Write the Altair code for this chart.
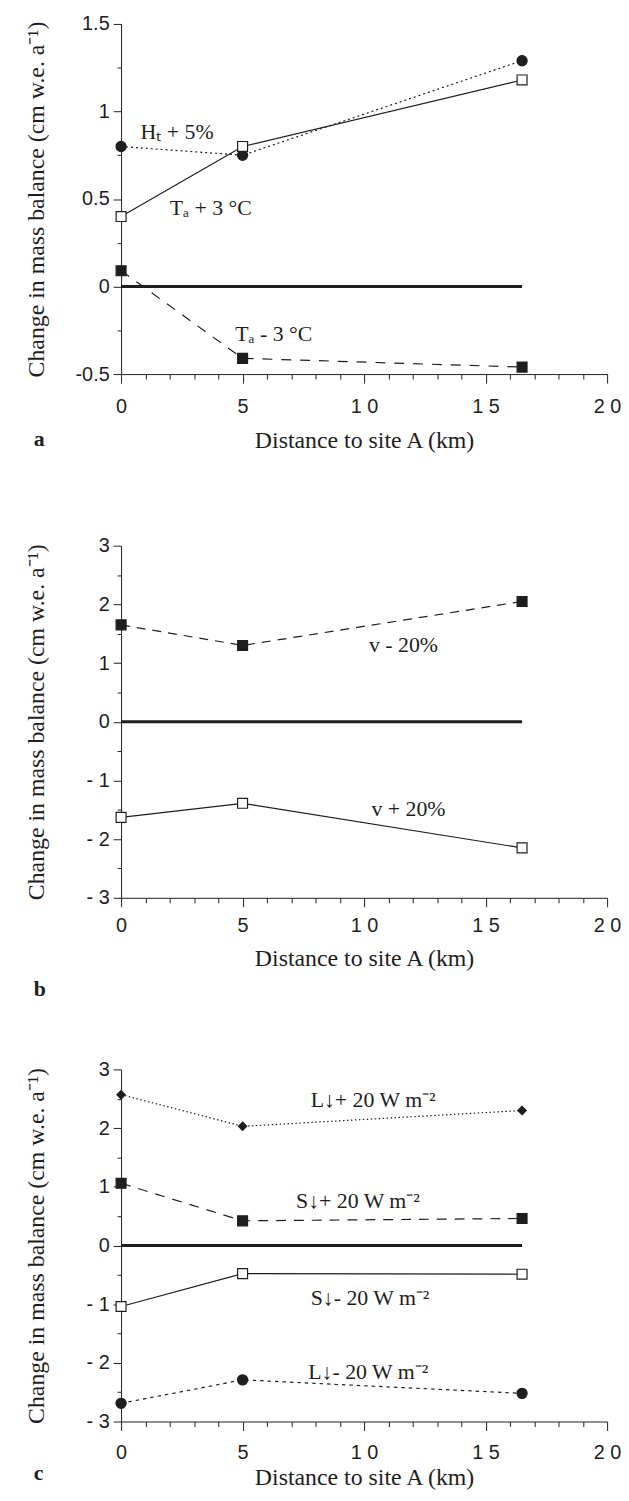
import altair as alt
import pandas as pd

# ---------------- data ----------------
SITE_KM = [0, 5, 16.5]

# panel a
A_HT_P5 = [0.80, 0.75, 1.29]
A_TA_P3 = [0.40, 0.80, 1.18]
A_TA_M3 = [0.09, -0.41, -0.46]
# panel b
B_V_M20 = [1.65, 1.30, 2.05]
B_V_P20 = [-1.63, -1.39, -2.15]
# panel c
C_L_P20 = [2.57, 2.03, 2.30]
C_S_P20 = [1.06, 0.42, 0.46]
C_S_M20 = [-1.04, -0.48, -0.49]
C_L_M20 = [-2.69, -2.29, -2.52]

ZERO_KM = [0, 16.5]
ZERO_VAL = [0, 0]

X_TICKS = [0, 5, 10, 15, 20]
X_TICK_LABELS = ["0", "5", "1 0", "1 5", "2 0"]
A_Y_TICKS = [-0.5, 0, 0.5, 1, 1.5]
A_Y_TICK_LABELS = ["-0.5", "0", "0.5", "1", "1.5"]
BC_Y_TICKS = [-3, -2, -1, 0, 1, 2, 3]
BC_Y_TICK_LABELS = ["- 3", "- 2", "- 1", "0", "1", "2", "3"]

A_LABELS = ["H\u209c + 5%", "T\u2090 + 3 \u00b0C", "T\u2090 - 3 \u00b0C"]
A_LABEL_X = [0.8, 2.0, 4.7]
A_LABEL_Y = [0.88, 0.45, -0.27]
B_LABELS = ["v - 20%", "v + 20%"]
B_LABEL_X = [10.2, 10.3]
B_LABEL_Y = [1.31, -1.49]
C_LABELS = ["L\u2193+ 20 W m\u207b\u00b2", "S\u2193+ 20 W m\u207b\u00b2",
            "S\u2193- 20 W m\u207b\u00b2", "L\u2193- 20 W m\u207b\u00b2"]
C_LABEL_X = [7.8, 7.2, 7.8, 7.7]
C_LABEL_Y = [2.48, 0.75, -0.9, -2.15]

INK = "#1e1e1e"
SANS = "Liberation Sans"
SERIF = "Liberation Serif"
Y_TITLE = "Change in mass balance (cm w.e. a\u207b\u00b9)"
X_TITLE = "Distance to site A (km)"


def pick_expr(values, labels):
    parts = [f"abs(datum.value - ({v})) < 1e-6 ? '{t}'" for v, t in zip(values, labels)]
    return " : ".join(parts) + " : ''"


def major_test(step):
    return f"abs(datum.value / {step} - round(datum.value / {step})) < 1e-6"


def tick_grid(lo, hi, step):
    n = int(round((hi - lo) / step))
    return [round(lo + i * step, 6) for i in range(n + 1)]


def make_panel(series, y_dom, y_ticks, y_labels, y_major, y_minor,
               labels, lx, ly, height, x_label_pad, x_title_pad, letter, letter_dy):
    x_axis = alt.Axis(
        values=tick_grid(0, 20, 1),
        labelExpr=pick_expr(X_TICKS, X_TICK_LABELS),
        tickSize={"condition": {"test": major_test(5), "value": 9}, "value": 5},
        labelPadding=x_label_pad, labelOverlap=False, labelFlush=False, labelBound=False,
        title=X_TITLE, titleFont=SERIF, titleFontSize=24, titleFontWeight="normal",
        titlePadding=x_title_pad, minExtent=9 + x_label_pad + 20, maxExtent=9 + x_label_pad + 20,
    )
    y_axis = alt.Axis(
        values=tick_grid(y_dom[0], y_dom[1], y_minor),
        labelExpr=pick_expr(y_ticks, y_labels),
        tickSize={"condition": {"test": major_test(y_major), "value": 8}, "value": 4},
        labelPadding=4, labelOverlap=False, labelFlush=False, labelBound=False,
        title=Y_TITLE, titleFont=SERIF, titleFontSize=24, titleFontWeight="normal",
        titlePadding=23, minExtent=50, maxExtent=50,
    )
    X = alt.X("x:Q", scale=alt.Scale(domain=[0, 20], nice=False, zero=False), axis=x_axis)
    Y = alt.Y("y:Q", scale=alt.Scale(domain=y_dom, nice=False, zero=False), axis=y_axis)

    layers = []
    zero_df = pd.DataFrame({"x": ZERO_KM, "y": ZERO_VAL})
    layers.append(alt.Chart(zero_df).mark_line(color=INK, strokeWidth=3).encode(x=X, y=Y))
    for ys, dash, shape, fill, size in series:
        df = pd.DataFrame({"x": SITE_KM, "y": ys})
        line_kw = dict(color=INK, strokeWidth=1.2)
        if dash:
            line_kw["strokeDash"] = dash
        layers.append(alt.Chart(df).mark_line(**line_kw).encode(x=X, y=Y))
        layers.append(
            alt.Chart(df).mark_point(shape=shape, size=size, filled=True, fill=fill,
                                     stroke=INK, strokeWidth=1.2, opacity=1).encode(x=X, y=Y)
        )
    tdf = pd.DataFrame({"x": lx, "y": ly, "t": labels})
    layers.append(
        alt.Chart(tdf).mark_text(align="left", baseline="middle", font=SERIF, fontSize=22,
                                 color=INK).encode(x=X, y=Y, text="t:N")
    )
    return alt.layer(*layers).properties(
        width=490, height=height,
        title=alt.TitleParams(text=letter, orient="bottom", anchor="start", frame="group",
                              baseline="top", dx=-88, dy=letter_dy, offset=4,
                              font=SERIF, fontSize=22, fontWeight="bold", color=INK),
    )


panel_a = make_panel(
    [
        (A_HT_P5, [2, 3], "circle", INK, 105),
        (A_TA_P3, None, "square", "white", 100),
        (A_TA_M3, [10, 9], "square", INK, 100),
    ],
    [-0.5, 1.5], A_Y_TICKS, A_Y_TICK_LABELS, 0.5, 0.25,
    A_LABELS, A_LABEL_X, A_LABEL_Y, 353, 14, 12, "a", -27,
)
panel_b = make_panel(
    [
        (B_V_M20, [9, 7], "square", INK, 100),
        (B_V_P20, None, "square", "white", 100),
    ],
    [-3, 3], BC_Y_TICKS, BC_Y_TICK_LABELS, 1, 0.5,
    B_LABELS, B_LABEL_X, B_LABEL_Y, 355, 9, 11, "b", 5,
)
panel_c = make_panel(
    [
        (C_L_P20, [1.5, 2.5], "diamond", INK, 70),
        (C_S_P20, [10, 8], "square", INK, 100),
        (C_S_M20, None, "square", "white", 100),
        (C_L_M20, [3.5, 4], "circle", INK, 105),
    ],
    [-3, 3], BC_Y_TICKS, BC_Y_TICK_LABELS, 1, 0.5,
    C_LABELS, C_LABEL_X, C_LABEL_Y, 355, 12, 3, "c", -30,
)

chart = (
    alt.vconcat(panel_a, panel_b, panel_c, spacing=173, bounds="flush")
    .properties(padding={"left": 17, "top": 0, "right": 0, "bottom": 0}, background="white")
    .configure_view(stroke=None)
    .configure_axis(
        grid=False, domainColor=INK, domainWidth=1, tickColor=INK, tickWidth=1,
        labelColor=INK, titleColor=INK, labelFont=SANS, labelFontSize=20,
    )
)

chart.save("out.html", embed_options={"renderer": "svg", "actions": False})
